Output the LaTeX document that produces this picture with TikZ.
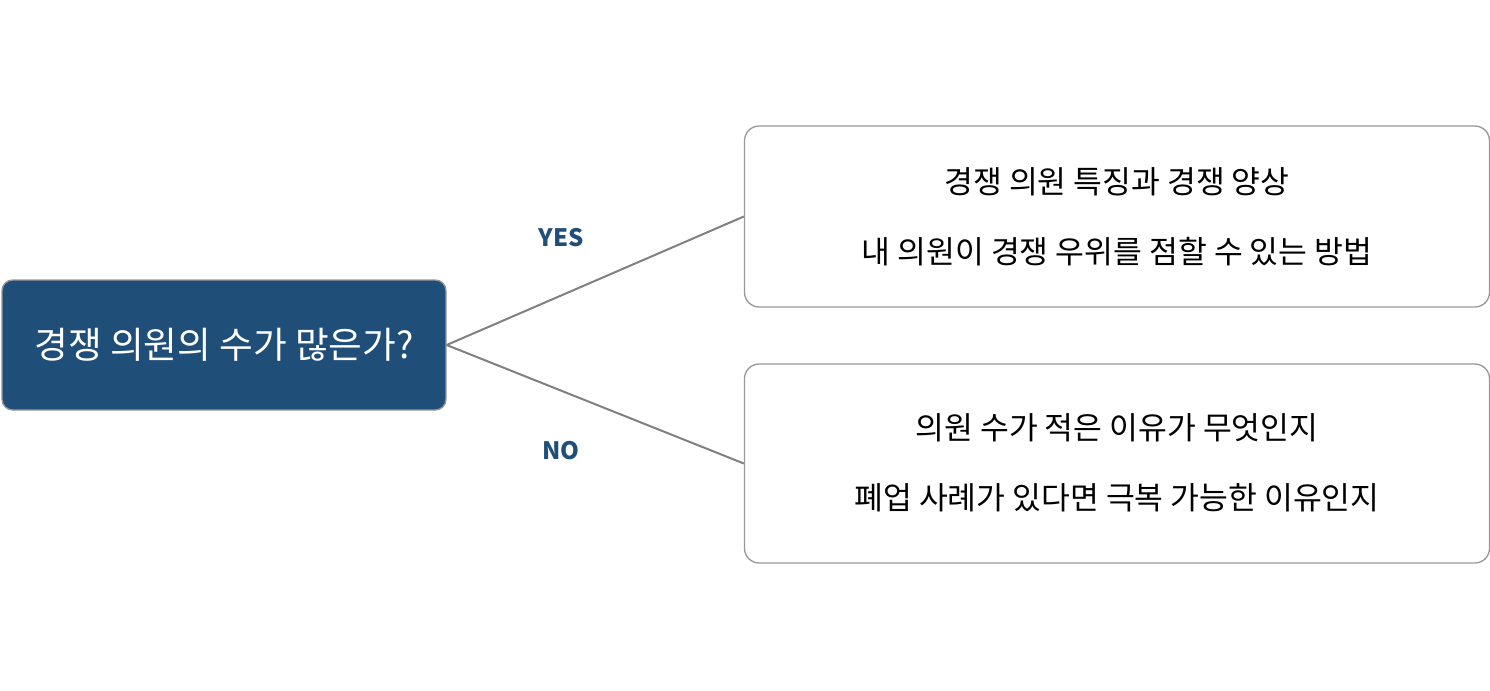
\documentclass[tikz,border=0pt]{standalone}
\usepackage{fontspec}
\setmainfont{Noto Sans CJK KR}
\definecolor{navy}{HTML}{1F4E79}
\definecolor{bord}{HTML}{999999}
\definecolor{lin}{HTML}{808080}
\begin{document}
\begin{tikzpicture}[x=0.75pt,y=-0.75pt,
  rbox/.style={draw=bord,line width=1pt,rounded corners=11pt,fill=white},
  txt/.style={font=\fontsize{23.5}{28}\selectfont,text=black},
  lab/.style={font=\fontsize{18}{22}\selectfont\bfseries,text=navy}]
\useasboundingbox (0,0) rectangle (1490,690);
\node[draw=bord,line width=1pt,rounded corners=8pt,fill=navy,minimum width=333pt,minimum height=97.5pt,inner sep=0,
  text=white,font=\fontsize{27.5}{32}\selectfont] (q) at (224,345) {경쟁 의원의 수가 많은가?};
\node[rbox,minimum width=558.75pt,minimum height=135.75pt,inner sep=0] (yes) at (1117,216.5) {};
\node[rbox,minimum width=558.75pt,minimum height=149.25pt,inner sep=0] (no) at (1117,463.5) {};
\node[txt] (y1) at (1117,182) {경쟁 의원 특징과 경쟁 양상};
\node[txt] (y2) at (1117,252) {내 의원이 경쟁 우위를 점할 수 있는 방법};
\node[txt] (n1) at (1117,428) {의원 수가 적은 이유가 무엇인지};
\node[txt] (n2) at (1117,498) {폐업 사례가 있다면 극복 가능한 이유인지};
\node[lab] (ly) at (561,238) {YES};
\node[lab] (ln) at (561,451) {NO};
\draw[lin,line width=1.5pt] (q.east) -- (yes.west);
\draw[lin,line width=1.5pt] (q.east) -- (no.west);
\end{tikzpicture}
\end{document}
